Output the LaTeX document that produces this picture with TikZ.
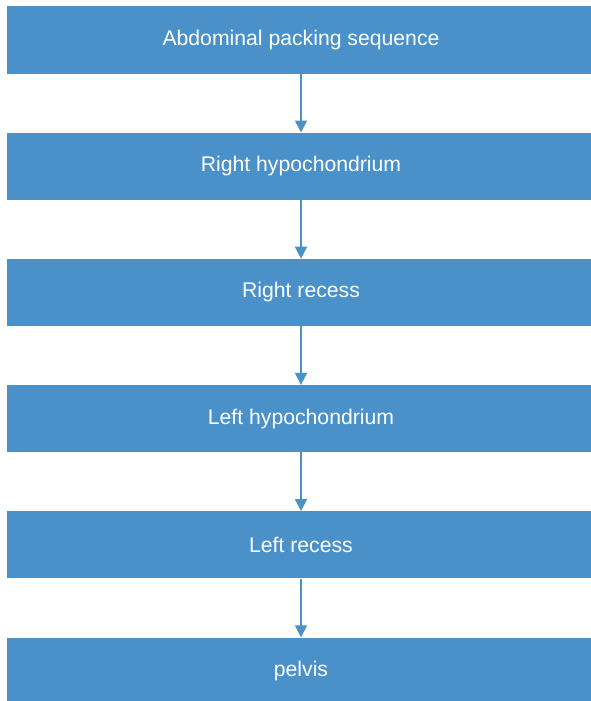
\documentclass[tikz,border=0pt]{standalone}
\usepackage{fontspec}
\setmainfont{Liberation Sans}
\usetikzlibrary{arrows.meta, positioning}
\definecolor{cBox}{HTML}{4A91C9}
\tikzset{
  >={Triangle[length=12pt,width=12pt]},
  stage/.style={fill=cBox, draw=none, minimum width=588pt, minimum height=67pt,
      inner sep=0pt, text=white, font=\fontsize{21.2pt}{25pt}\selectfont},
  link/.style={->, draw=cBox, line width=1.5pt, shorten >=0pt},
}

\begin{document}
\begin{tikzpicture}[x=1pt, y=-1pt, node distance=58.8pt]
\useasboundingbox (0,0) rectangle (590,701);

% ===================== stages =====================
\node[stage] (s1) at (301,40) {Abdominal packing sequence};
\node[stage, below=of s1] (s2) {Right hypochondrium};
\node[stage, below=of s2] (s3) {Right recess};
\node[stage, below=of s3] (s4) {Left hypochondrium};
\node[stage, below=of s4] (s5) {Left recess};
\node[stage, below=of s5] (s6) {pelvis};

% ===================== arrows =====================
\foreach \a/\b in {s1/s2, s2/s3, s3/s4, s4/s5, s5/s6}
  \draw[link] (\a.south) -- (\b.north);

\end{tikzpicture}
\end{document}
